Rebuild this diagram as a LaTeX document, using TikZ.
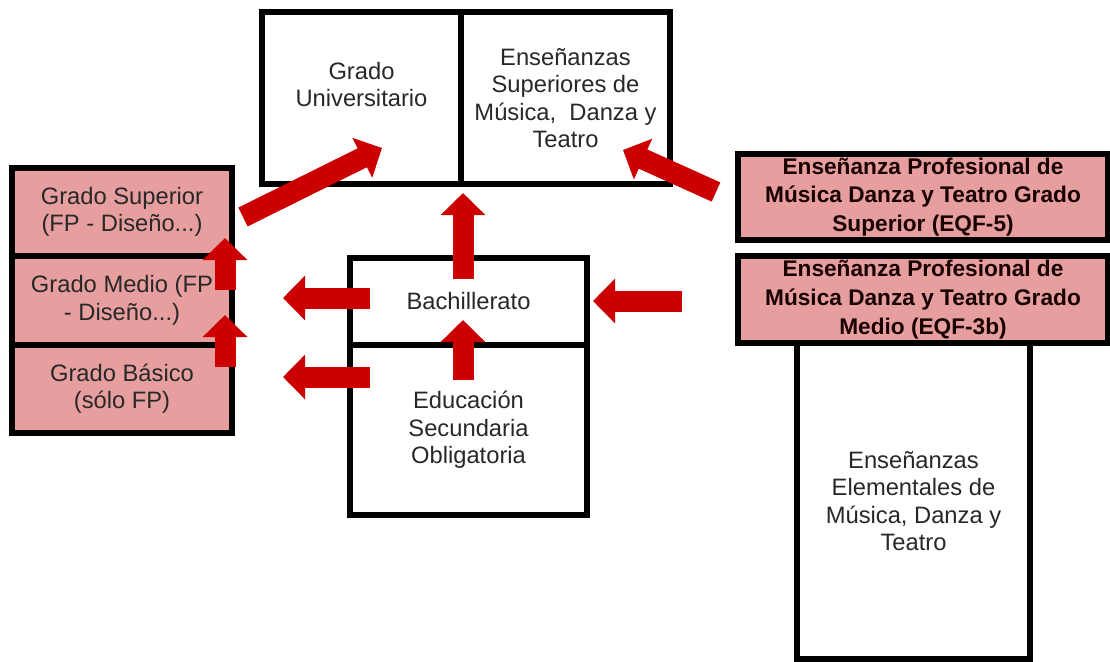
\documentclass[tikz,border=0pt]{standalone}
\usepackage{fontspec}
\setmainfont{Liberation Sans}
\usetikzlibrary{arrows.meta}
\definecolor{pinkfill}{RGB}{230,158,158}
\definecolor{arrred}{RGB}{204,0,0}
\definecolor{txt}{RGB}{40,40,40}
\tikzset{
  box/.style={draw=black, line width=3.9pt, inner sep=0pt, align=center, text=txt,
    font=\fontsize{17.8pt}{20.5pt}\selectfont, anchor=center},
  pinkbox/.style={box, fill=pinkfill},
  boldbox/.style={box, fill=pinkfill, text=black!90!red,
    font=\fontsize{17pt}{21.5pt}\selectfont\bfseries},
  redarrow/.style={draw=arrred, line width=15.75pt, line cap=butt,
    -{Triangle[length=16.5pt,width=32.5pt]}},
}
\begin{document}
\begin{tikzpicture}[x=0.75pt,y=-0.75pt]
\useasboundingbox[fill=white] (0,0) rectangle (1110,661);

% top boxes
\node[box, minimum width=149.25pt, minimum height=129pt] (gu) at (361.5,98)
  {Grado\\Universitario\\ \mbox{}};
\node[box, minimum width=156.75pt, minimum height=129pt] (es) at (565.5,98)
  {Enseñanzas\\Superiores de\\Música,\ \ Danza y\\Teatro};

% left boxes
\node[pinkbox, minimum width=165pt, minimum height=66pt] (gs) at (122,212)
  {Grado Superior\\(FP - Diseño...)};
\node[pinkbox, minimum width=165pt, minimum height=66.75pt] (gm) at (122,300.5)
  {Grado Medio (FP\\- Diseño...)};
\node[pinkbox, minimum width=165pt, minimum height=66pt] (gb) at (122,389)
  {Grado Básico\\(sólo FP)};

% middle boxes
\node[box, minimum width=177.75pt, minimum height=65.25pt] (ba) at (468.5,301.5)
  {Bachillerato};
\node[box, minimum width=177.75pt, minimum height=127.5pt] (eso) at (468.5,430)
  {Educación\\Secundaria\\Obligatoria};

% right boxes
\node[box, minimum width=174.75pt, minimum height=237pt] (el) at (913.5,501)
  {Enseñanzas\\Elementales de\\Música, Danza y\\Teatro};
\node[boldbox, minimum width=277.5pt, minimum height=64.5pt] (eq5) at (923,197)
  {Enseñanza Profesional de\\Música Danza y Teatro Grado\\Superior (EQF-5)};
\node[boldbox, minimum width=277.5pt, minimum height=65.25pt] (eq3) at (923,299.5)
  {Enseñanza Profesional de\\Música Danza y Teatro Grado\\Medio (EQF-3b)};

% arrow end points
\coordinate (a1s) at (243,217);  \coordinate (a1e) at (382,148);
\coordinate (a2s) at (716,192);  \coordinate (a2e) at (623,150);
\coordinate (a3s) at (463,279);  \coordinate (a3e) at (463,193);
\coordinate (a4s) at (370,298);  \coordinate (a4e) at (283,298);
\coordinate (a5s) at (370,377);  \coordinate (a5e) at (283,377);
\coordinate (a6s) at (682,301);  \coordinate (a6e) at (593,301);
\coordinate (a7s) at (463,380);  \coordinate (a7e) at (463,320);
\coordinate (a8s) at (225,290);  \coordinate (a8e) at (225,238);
\coordinate (a9s) at (225,367);  \coordinate (a9e) at (225,315);

\draw[redarrow] (a1s) -- (a1e);
\draw[redarrow] (a2s) -- (a2e);
\draw[redarrow] (a3s) -- (a3e);
\draw[redarrow] (a4s) -- (a4e);
\draw[redarrow] (a5s) -- (a5e);
\draw[redarrow] (a6s) -- (a6e);
\draw[redarrow] (a7s) -- (a7e);
\draw[redarrow] (a8s) -- (a8e);
\draw[redarrow] (a9s) -- (a9e);
\end{tikzpicture}
\end{document}
